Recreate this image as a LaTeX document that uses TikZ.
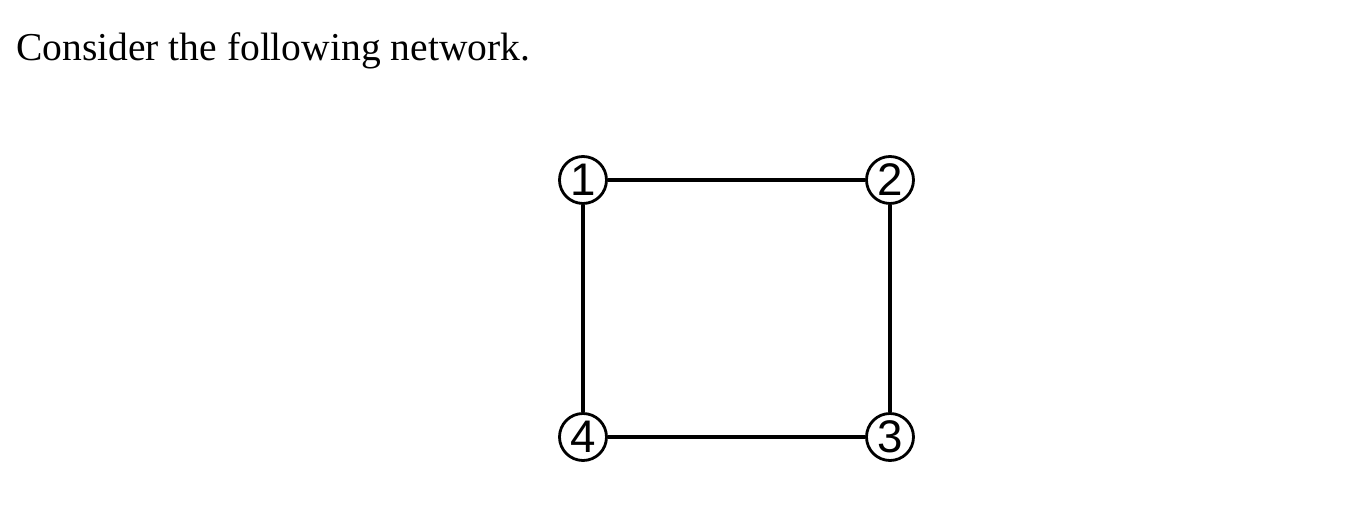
\documentclass[tikz,border=0pt]{standalone}
\usepackage{fontspec}
\setmainfont{Liberation Serif}
\newfontfamily\arialfont{Liberation Sans}
\usetikzlibrary{positioning}
\tikzset{
    vertex/.style={draw, circle, line width=1.6pt, minimum size=0.94cm, inner sep=0pt, font=\arialfont\fontsize{26}{28}\selectfont},
    link/.style={line width=2.4pt}
}
\begin{document}
\begin{tikzpicture}
    \useasboundingbox (0,0) rectangle (27.12,10.14);
    \node[anchor=west, font=\fontsize{22.5}{26}\selectfont] (title) at (0.2,9.12) {Consider the following network.};
    \node[vertex] (v1) at (11.66,6.54) {1};
    \node[vertex] (v2) at (17.8,6.54) {2};
    \node[vertex] (v3) at (17.8,1.4) {3};
    \node[vertex] (v4) at (11.66,1.4) {4};
    \draw[link] (v1) -- (v2);
    \draw[link] (v2) -- (v3);
    \draw[link] (v3) -- (v4);
    \draw[link] (v4) -- (v1);
\end{tikzpicture}
\end{document}
